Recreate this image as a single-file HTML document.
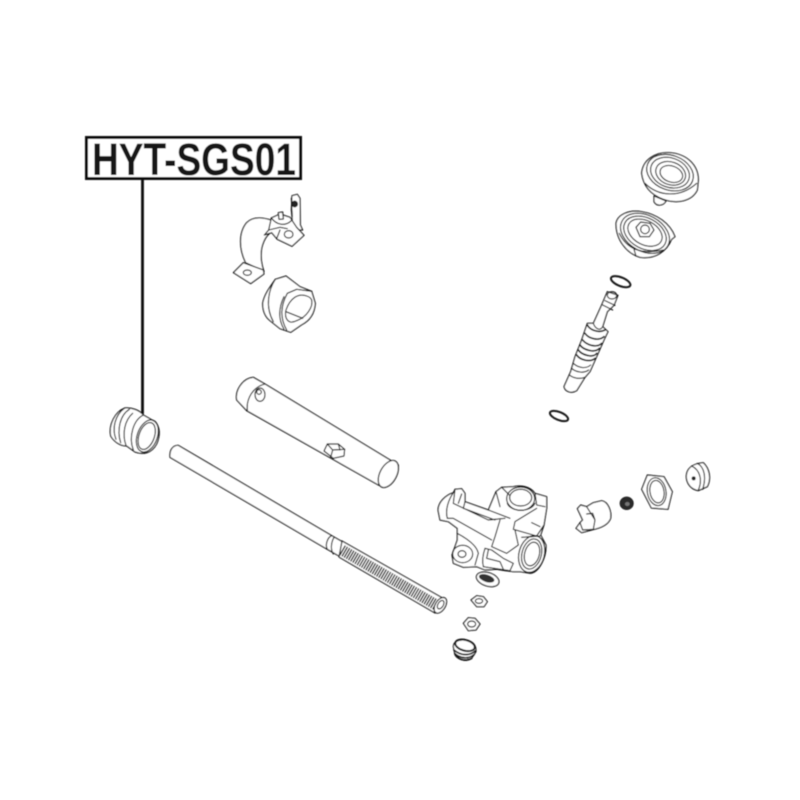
<!DOCTYPE html>
<html>
<head>
<meta charset="utf-8">
<style>
html,body{margin:0;padding:0;background:#fff;width:800px;height:800px;overflow:hidden}
svg{display:block}
.d{fill:#fff;stroke:#141414;stroke-width:3.6;stroke-linejoin:round;stroke-linecap:round}
.n{fill:none;stroke:#141414;stroke-width:3.4;stroke-linejoin:round;stroke-linecap:round}
.k{fill:#222;stroke:#141414;stroke-width:2}
</style>
</head>
<body>
<svg width="800" height="800" viewBox="0 0 800 800" xmlns="http://www.w3.org/2000/svg">
<defs><filter id="b" x="-5%" y="-5%" width="110%" height="110%"><feGaussianBlur stdDeviation="0.5"/></filter></defs>
<rect width="800" height="800" fill="#fff"/>
<g filter="url(#b)">
<!-- label -->
<rect x="86.5" y="137.5" width="214" height="41" fill="#fff" stroke="#111" stroke-width="3"/>
<text x="92" y="175" font-family="'Liberation Sans',sans-serif" font-weight="700" font-size="45" fill="#151515" textLength="204" lengthAdjust="spacingAndGlyphs">HYT-SGS01</text>
<line x1="142.5" y1="180" x2="142.5" y2="414" stroke="#111" stroke-width="2.8"/>

<!-- clamp + square bushing -->
<g transform="translate(80,130) scale(.33333)">
<path class="d" d="M636 197 L652 193 L660 205 L661 285 L668 300 L640 300 L634 240 Z"/>
<path class="n" d="M634 205 L637 260"/>
<circle cx="644" cy="222" r="9" class="k"/>
<path class="d" d="M497 398 C478 360 474 310 500 278 C520 258 550 262 578 272 L590 300 C565 305 552 325 545 355 C541 380 545 405 552 424 Z"/>
<path class="d" d="M460 428 L490 398 L550 420 L552 432 L512 461 Z"/>
<ellipse cx="502" cy="428" rx="12" ry="8" class="n"/>
<path class="d" d="M553 315 L566 300 L574 264 L600 252 L630 262 L650 292 L672 316 L636 349 L592 328 L575 308 Z"/>
<path class="n" d="M574 264 C590 285 615 290 634 272 M566 300 L600 292 L622 296 M600 300 L590 326"/>
<ellipse cx="626" cy="313" rx="13" ry="11" class="n"/>
<path class="d" d="M595 248 L608 246 L610 267 L597 268 Z"/>
<path class="d" d="M548 520 C552 495 570 470 586 448 L618 438 L660 470 L695 484 L706 520 C704 550 690 572 664 585 L632 607 L600 596 L570 572 C555 560 548 540 548 520 Z"/>
<path class="n" d="M586 448 C565 480 555 530 580 575"/>
<path class="n" d="M622 490 L650 478 L695 484 M622 490 C600 530 600 565 620 600 M612 500 C595 535 595 570 612 597"/>
<path class="n" d="M680 498 C655 488 630 505 618 540 C612 565 625 585 650 572 C680 562 700 530 695 510 C692 503 687 500 680 498 Z"/>
<path class="n" d="M618 545 L668 565"/>
</g>

<!-- small bushing, tube, rod -->
<g transform="translate(90,370) scale(.33333)">
<path class="d" d="M104 114 C125 112 148 120 160 135 L195 155 C210 170 212 195 200 222 C185 250 160 255 135 246 L110 228 C90 228 72 215 62 198 C55 165 75 125 104 114 Z"/>
<path class="n" d="M104 114 C75 135 65 175 78 208 M118 118 C90 135 80 180 92 218 M128 130 C105 150 95 190 108 226 M160 135 C130 150 115 200 130 240"/>
<ellipse cx="172" cy="198" rx="30" ry="50" transform="rotate(20 172 198)" class="n"/>
<ellipse cx="170" cy="198" rx="23" ry="42" transform="rotate(20 170 198)" class="n"/>

<path class="d" d="M440 90 C435 60 458 25 490 22 L525 42 L925 285 L920 315 L885 352 L865 345 L470 122 Z"/>
<path class="n" d="M525 42 C490 50 468 85 472 122"/>
<ellipse cx="510" cy="74" rx="15" ry="20" class="n"/>
<circle cx="507" cy="66" r="7" class="n"/>
<ellipse cx="895" cy="312" rx="25" ry="44" transform="rotate(28 895 312)" class="d"/>
<path class="d" d="M702 243 L712 222 L745 222 L764 238 L762 258 L730 265 Z"/>
<path class="n" d="M712 222 L728 240 L722 262 M728 240 L764 238 M745 222 L750 240"/>

<path class="d" d="M240 262 C238 240 248 226 265 226 L725 497 L712 538 Z"/>
<path class="d" d="M725 497 L760 517 L750 560 L712 538 C705 525 712 502 725 497 Z"/>
<path class="n" d="M732 502 C722 520 722 540 730 552"/>
</g>
<!-- rack -->
<path d="M342 541 L446 600 L435 613 L339 557 Z" fill="#fff" stroke="#141414" stroke-width="1.2"/>
<line x1="342" y1="550" x2="438" y2="606" stroke="#222" stroke-width="11" stroke-dasharray="1.4 1.1"/>
<g transform="translate(420,450) scale(.33333)">
<ellipse cx="61" cy="466" rx="15" ry="26" transform="rotate(32 61 466)" class="d"/>
<ellipse cx="62" cy="464" rx="8" ry="14" transform="rotate(32 62 464)" class="n"/>
</g>

<!-- upper column parts -->
<g transform="translate(530,140) scale(.33333)">
<path class="d" d="M372 168 L372 185 C380 200 400 198 408 183 Z"/>
<path class="d" d="M335 100 C338 60 375 35 420 38 C470 42 505 75 505 120 L502 150 C485 185 440 192 400 178 C365 165 340 140 335 100 Z"/>
<ellipse cx="420" cy="98" rx="72" ry="52" transform="rotate(20 420 98)" class="n"/>
<ellipse cx="420" cy="98" rx="60" ry="44" transform="rotate(20 420 98)" class="n"/>
<ellipse cx="422" cy="100" rx="46" ry="34" transform="rotate(20 422 100)" class="n"/>
<ellipse cx="424" cy="102" rx="35" ry="24" transform="rotate(20 424 102)" class="n"/>
<path class="n" d="M345 130 C385 170 450 175 500 130"/>

<path class="d" d="M258 250 C262 225 295 208 335 215 C380 222 420 250 435 290 L425 298 C410 335 375 358 330 352 C290 340 258 300 258 250 Z"/>
<ellipse cx="345" cy="280" rx="78" ry="54" transform="rotate(28 345 280)" class="n"/>
<ellipse cx="345" cy="280" rx="68" ry="46" transform="rotate(28 345 280)" class="n"/>
<ellipse cx="345" cy="278" rx="55" ry="36" transform="rotate(28 345 278)" class="n"/>
<path class="n" d="M268 280 C290 325 330 345 400 330 M312 328 L318 348"/>
<path class="d" d="M318 262 L332 246 L360 250 L372 270 L358 290 L330 290 Z"/>
<circle cx="345" cy="268" r="13" class="n"/>

<ellipse cx="272" cy="425" rx="31" ry="13" transform="rotate(22 272 425)" fill="none" stroke="#141414" stroke-width="6"/>
<ellipse cx="87" cy="828" rx="29" ry="12" transform="rotate(22 87 828)" fill="none" stroke="#141414" stroke-width="6"/>

<path class="d" d="M232 455 L264 466 L252 496 L232 515 L218 560 L234 575 L222 600 L200 650 L180 695 L165 712 L140 752 C125 762 105 755 102 740 L122 695 L135 650 L155 600 L172 550 L190 550 L215 495 Z"/>
<ellipse cx="246" cy="466" rx="14" ry="11" class="n"/>
<path class="n" d="M225 482 L255 496 M218 495 L248 510"/>
<path class="n" style="stroke-width:5" d="M172 555 C180 570 205 580 225 570 M165 580 C175 595 205 605 222 590 M158 600 C170 615 200 625 215 610 M150 615 C160 630 195 640 208 625 M145 630 C155 645 190 655 200 640 M140 645 C150 660 180 668 195 655"/>
<path class="n" d="M130 670 C140 680 165 690 182 675 M125 685 C135 695 160 702 176 690 M118 705 C130 715 150 718 165 712"/>
<path class="n" d="M190 550 C195 565 210 575 218 560" />
</g>

<!-- housing and small parts -->
<g transform="translate(420,450) scale(.33333)">
<path class="d" d="M54 180 C55 155 78 135 100 128 L105 118 L125 116 L135 130 L135 155 L205 180 L228 125 L245 112 L280 110 C300 105 330 108 345 130 L380 140 L380 175 L372 225 L362 255 L378 285 C380 320 358 368 330 370 L300 365 L280 365 L255 362 L230 358 L195 360 L170 350 L130 352 L100 340 L96 315 L112 270 L112 235 L85 215 L60 210 Z"/>
<path class="n" d="M100 128 C85 150 75 180 82 205 L100 205 L215 270 M105 118 L100 160 L205 210 L255 205 M125 132 L115 160 M135 155 L130 175 L225 210 M205 180 L270 205 M228 125 L240 170 M245 112 L268 135"/>
<ellipse cx="302" cy="146" rx="42" ry="35" class="n"/>
<ellipse cx="302" cy="143" rx="33" ry="25" class="n"/>
<path class="n" d="M262 160 C270 185 330 190 345 160"/>
<path class="n" d="M345 130 L350 165 L375 170 M350 175 L285 215 L280 238 L350 258 L372 225 M335 218 L360 230"/>
<path class="n" d="M240 210 L225 260 L215 290 L260 310 L295 285 L285 240"/>
<path class="n" d="M112 250 C140 265 170 285 175 310 L165 345"/>
<ellipse cx="128" cy="312" rx="30" ry="26" class="n"/>
<ellipse cx="126" cy="312" rx="12" ry="10" class="n"/>
<path class="n" d="M195 295 L215 300 L250 325 L280 340 L270 362 L190 350 C185 330 190 310 195 295 M205 300 L200 325 L240 335 L250 358"/>
<ellipse cx="335" cy="312" rx="38" ry="56" transform="rotate(15 335 312)" class="d"/>
<ellipse cx="335" cy="312" rx="29" ry="46" transform="rotate(15 335 312)" class="n"/>
<ellipse cx="336" cy="312" rx="22" ry="36" transform="rotate(15 336 312)" class="n"/>
<path class="n" d="M305 262 L360 258"/>

<ellipse cx="203" cy="388" rx="35" ry="20" transform="rotate(18 203 388)" class="d"/>
<ellipse cx="200" cy="385" rx="24" ry="11" transform="rotate(18 200 385)" fill="#333"/>
<path class="d" d="M153 450 L170 437 L190 440 L202 455 L192 470 L170 470 Z"/>
<ellipse cx="177" cy="453" rx="11" ry="7" class="n"/>
<path class="d" d="M130 520 L145 503 L165 505 L180 522 L168 540 L145 542 Z"/>
<ellipse cx="155" cy="522" rx="12" ry="9" class="n"/>
<path class="d" d="M100 590 C100 575 115 568 135 570 C155 572 170 585 168 605 L155 625 C140 637 115 630 105 615 Z"/>
<ellipse cx="135" cy="586" rx="30" ry="16" transform="rotate(15 135 586)" style="fill:none;stroke:#141414;stroke-width:6"/>
<path class="n" style="stroke-width:5" d="M102 600 C120 616 148 620 167 602 M104 610 C120 626 146 628 162 614 M110 620 C124 632 142 632 155 625"/>

<path class="d" d="M472 176 L482 165 L500 170 L520 158 L545 152 C565 155 575 185 572 205 C565 225 540 235 515 240 L485 248 L468 235 L480 218 L488 210 Z"/>
<path class="n" d="M500 170 L525 210 L518 190 L500 192 M480 218 L488 240 L520 238"/>
<path class="n" d="M525 210 L520 238"/>
<ellipse cx="620" cy="160" rx="20" ry="19" fill="#2a2a2a" stroke="#141414" stroke-width="2"/>
<ellipse cx="622" cy="162" rx="7" ry="6" fill="#777"/>
<path class="d" d="M665 118 L682 75 L732 80 L757 125 L744 178 L694 174 Z"/>
<ellipse cx="710" cy="125" rx="28" ry="42" transform="rotate(-10 710 125)" class="n"/>
<ellipse cx="711" cy="125" rx="21" ry="34" transform="rotate(-10 711 125)" class="n"/>
<path class="d" d="M800 70 C805 50 825 40 850 38 C868 55 875 85 862 110 L835 122 C810 118 795 95 800 70 Z"/>
<path class="n" d="M832 40 C852 50 860 80 848 118 M815 48 C840 60 848 90 835 120"/>
<circle cx="821" cy="85" r="5" class="k"/>
</g>
</g>
</svg>
</body>
</html>
